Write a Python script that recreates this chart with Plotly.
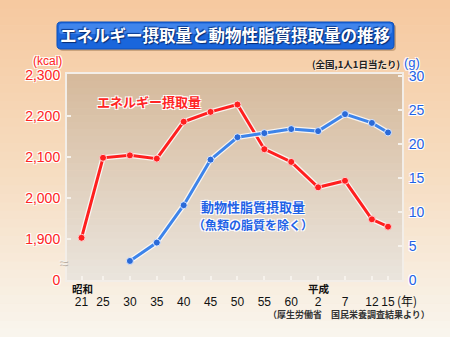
import plotly.graph_objects as go

# ---- data ----
year_labels = ["21", "25", "30", "35", "40", "45", "50", "55", "60", "2", "7", "12", "15"]
years = [1946, 1950, 1955, 1960, 1965, 1970, 1975, 1980, 1985, 1990, 1995, 2000, 2003]
energy_kcal = [1903, 2098, 2104, 2096, 2186, 2210, 2228, 2119, 2088, 2026, 2042, 1948, 1930]
fat_years = [1955, 1960, 1965, 1970, 1975, 1980, 1985, 1990, 1995, 2000, 2003]
animal_fat_g = [2.8, 5.5, 11.0, 17.7, 21.0, 21.6, 22.2, 21.9, 24.4, 23.1, 21.7]
left_ticks = [1800, 1900, 2000, 2100, 2200, 2300]
left_ticktext = ["0", "1,900", "2,000", "2,100", "2,200", "2,300"]
right_ticks = [0, 5, 10, 15, 20, 25, 30]

W, H = 450, 337
L, R, T, B = 67, 48, 74, 57
PW, PH = W - L - R, H - T - B

def px(x):
    return (x - L) / PW

def py(y):
    return (H - B - y) / PH

RED = "#ff1f1f"
BLUE = "#3d84ea"
TXT_RED = "#ff2525"
TXT_BLUE = "#1f62e6"
HALO = "1px 1px 0 #fff, -1px -1px 0 #fff, 1px -1px 0 #fff, -1px 1px 0 #fff"
JP = "Noto Sans CJK JP"
NUM = "Liberation Sans"

fig = go.Figure()

# halo lines
fig.add_trace(go.Scatter(x=years, y=energy_kcal, mode="lines", line=dict(color="rgba(255,255,255,0.8)", width=5.5),
                         hoverinfo="skip", showlegend=False))
fig.add_trace(go.Scatter(x=fat_years, y=animal_fat_g, yaxis="y2", mode="lines",
                         line=dict(color="rgba(255,255,255,0.8)", width=5.5), hoverinfo="skip", showlegend=False))
fig.add_trace(go.Scatter(x=years, y=energy_kcal, mode="lines+markers", line=dict(color=RED, width=3),
                         marker=dict(color=RED, size=7, line=dict(color="#ffd0d0", width=1)), showlegend=False))
fig.add_trace(go.Scatter(x=fat_years, y=animal_fat_g, yaxis="y2", mode="lines+markers", line=dict(color=BLUE, width=3),
                         marker=dict(color="#2a6ad8", size=7, line=dict(color="#d8e6ff", width=1)), showlegend=False))

shapes = []
# paper gradient
n = 40
def lerp(c1, c2, t):
    return tuple(round(a + (b - a) * t) for a, b in zip(c1, c2))
top_c, mid_c, bot_c = (246, 201, 160), (246, 220, 192), (249, 245, 237)
for i in range(n):
    t = i / (n - 1)
    c = lerp(top_c, mid_c, t * 2) if t < 0.5 else lerp(mid_c, bot_c, (t - 0.5) * 2)
    y0 = i * H / n
    y1 = (i + 1) * H / n + 0.5
    shapes.append(dict(type="rect", xref="paper", yref="paper", x0=px(0), x1=px(W), y0=py(y1), y1=py(y0),
                       fillcolor="rgb(%d,%d,%d)" % c, line=dict(width=0), layer="below"))
# plot area gradient
ptop, pbot = (214, 186, 156), (234, 228, 220)
m = 30
for i in range(m):
    t = i / (m - 1)
    c = lerp(ptop, pbot, t)
    y0 = T + i * PH / m
    y1 = T + (i + 1) * PH / m + 0.5
    shapes.append(dict(type="rect", xref="paper", yref="paper", x0=0, x1=1, y0=py(min(y1, T + PH)), y1=py(y0),
                       fillcolor="rgb(%d,%d,%d)" % c, line=dict(width=0), layer="below"))

# title box (rounded)
def rrect(x0, y0, x1, y1, r):
    X = lambda v: px(v)
    Y = lambda v: py(v)
    return ("M %f,%f L %f,%f Q %f,%f %f,%f L %f,%f Q %f,%f %f,%f L %f,%f Q %f,%f %f,%f L %f,%f Q %f,%f %f,%f Z" % (
        X(x0 + r), Y(y0), X(x1 - r), Y(y0), X(x1), Y(y0), X(x1), Y(y0 + r),
        X(x1), Y(y1 - r), X(x1), Y(y1), X(x1 - r), Y(y1),
        X(x0 + r), Y(y1), X(x0), Y(y1), X(x0), Y(y1 - r),
        X(x0), Y(y0 + r), X(x0), Y(y0), X(x0 + r), Y(y0)))

shapes.append(dict(type="path", xref="paper", yref="paper", path=rrect(59, 24, 396, 51, 4),
                   fillcolor="rgba(120,80,40,0.35)", line=dict(width=0), layer="below"))
shapes.append(dict(type="path", xref="paper", yref="paper", path=rrect(57, 22, 394, 49, 4),
                   fillcolor="#1a66dc", line=dict(color="#0d4fb8", width=1), layer="below"))
shapes.append(dict(type="path", xref="paper", yref="paper", path=rrect(59, 23.5, 392, 34, 3),
                   fillcolor="rgba(110,170,255,0.45)", line=dict(width=0), layer="below"))

annotations = [
    dict(text="エネルギー摂取量と動物性脂質摂取量の推移", x=px(225), y=py(35), xref="paper", yref="paper",
         showarrow=False, font=dict(family=JP, size=16.5, color="white", weight="bold",
                                      shadow="1px 1px 1px #062a70, -1px -1px 1px #0a3a90"),
         xanchor="center", yanchor="middle"),
    dict(text="(kcal)", x=px(47), y=py(61), xref="paper", yref="paper", showarrow=False,
         font=dict(family=NUM, size=12, color=TXT_RED, shadow=HALO), xanchor="center", yanchor="middle"),
    dict(text="(g)", x=px(412), y=py(62), xref="paper", yref="paper", showarrow=False,
         font=dict(family=NUM, size=13, color=TXT_BLUE, shadow=HALO), xanchor="center", yanchor="middle"),
    dict(text="(全国,1人1日当たり)", x=px(402), y=py(64), xref="paper", yref="paper", showarrow=False,
         font=dict(family=JP, size=9.5, color="#222", weight="bold", shadow="1px 1px 0 rgba(255,255,255,0.6)"),
         xanchor="right", yanchor="middle"),
    dict(text="エネルギー摂取量", x=px(149), y=py(101), xref="paper", yref="paper", showarrow=False,
         font=dict(family=JP, size=13, color=TXT_RED, weight="bold", shadow=HALO), xanchor="center", yanchor="middle"),
    dict(text="動物性脂質摂取量", x=px(253), y=py(206), xref="paper", yref="paper", showarrow=False,
         font=dict(family=JP, size=13, color=TXT_BLUE, weight="bold", shadow=HALO), xanchor="center", yanchor="middle"),
    dict(text="（魚類の脂質を除く）", x=px(253), y=py(224), xref="paper", yref="paper", showarrow=False,
         font=dict(family=JP, size=12, color=TXT_BLUE, weight="bold", shadow=HALO), xanchor="center", yanchor="middle"),
    dict(text="≈", x=px(63), y=py(262), xref="paper", yref="paper", showarrow=False,
         font=dict(family=NUM, size=16, color="#f4f0ea", shadow="1px 1px 0 #b8aea4"), xanchor="center", yanchor="middle"),
    dict(text="昭和", x=px(82), y=py(288), xref="paper", yref="paper", showarrow=False,
         font=dict(family=JP, size=10.5, color="#111", weight="bold"), xanchor="center", yanchor="middle"),
    dict(text="平成", x=px(319), y=py(288), xref="paper", yref="paper", showarrow=False,
         font=dict(family=JP, size=10.5, color="#111", weight="bold"), xanchor="center", yanchor="middle"),
    dict(text="(年)", x=px(407), y=py(300), xref="paper", yref="paper", showarrow=False,
         font=dict(family=JP, size=12, color="#111"), xanchor="center", yanchor="middle"),
    dict(text="（厚生労働省　国民栄養調査結果より）", x=px(349), y=py(314), xref="paper", yref="paper", showarrow=False,
         font=dict(family=JP, size=9, color="#333", weight="bold"), xanchor="center", yanchor="middle"),
]

fig.update_layout(
    width=W, height=H, margin=dict(l=L, r=R, t=T, b=B),
    paper_bgcolor="#f6dcc0", plot_bgcolor="rgba(0,0,0,0)",
    shapes=shapes, annotations=annotations, showlegend=False,
    xaxis=dict(range=[1943.3, 2005.6], tickvals=years, ticktext=year_labels, showgrid=False, zeroline=False,
               ticks="inside", ticklen=4, tickcolor="#f6f2ec", tickwidth=1.5,
               showline=True, linecolor="#f3eee8", linewidth=2, mirror=True,
               tickfont=dict(family=NUM, size=12, color="#111"), ticklabelstandoff=10, tickangle=0),
    yaxis=dict(range=[1800, 2302.4], tickvals=left_ticks, ticktext=left_ticktext, showgrid=False, zeroline=False,
               ticks="inside", ticklen=4, tickcolor="#f6f2ec", tickwidth=1.5,
               showline=True, linecolor="#f3eee8", linewidth=2,
               tickfont=dict(family=NUM, size=14, color=TXT_RED, shadow=HALO), ticklabelstandoff=2),
    yaxis2=dict(range=[0, 30.3], tickvals=right_ticks, overlaying="y", side="right", showgrid=False, zeroline=False,
                ticks="inside", ticklen=4, tickcolor="#f6f2ec", tickwidth=1.5,
                showline=True, linecolor="#f3eee8", linewidth=2,
                tickfont=dict(family=NUM, size=14, color=TXT_BLUE, shadow=HALO), ticklabelstandoff=2),
)

fig.write_html("out.html")
